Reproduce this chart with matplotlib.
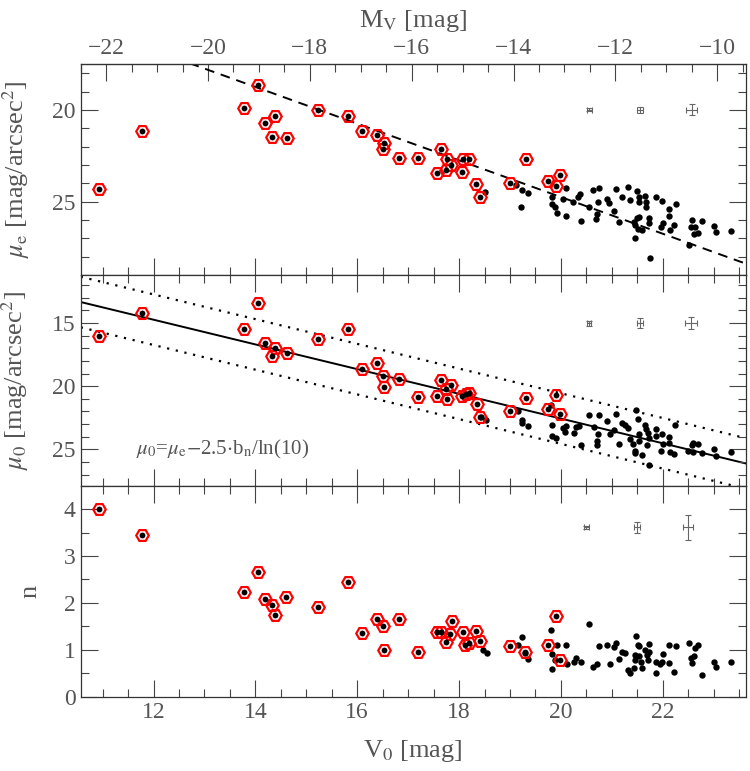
import numpy as np
import matplotlib
matplotlib.use("Agg")
import matplotlib.pyplot as plt
from matplotlib.ticker import MultipleLocator, FixedLocator

plt.rcParams["font.family"] = "Liberation Serif"
plt.rcParams["mathtext.fontset"] = "stix"

GREY = "#555555"
DM = 33.07  # V0 - M_V

# --- top panel: effective surface brightness
bright_v0_e = [10.93, 11.78, 13.78, 14.05, 14.18, 14.39, 14.32, 14.62, 15.24, 15.81,
               16.09, 16.38, 16.53, 16.51, 16.82, 17.20, 17.65, 17.76, 17.85, 17.56,
               17.75, 18.08, 18.20, 18.05, 18.34, 18.42, 19.01, 19.31, 19.75, 19.99, 19.91]
bright_mue = [24.29, 21.15, 19.91, 18.67, 20.71, 20.35, 21.49, 21.56, 20.00, 20.35,
              21.16, 21.36, 21.82, 22.15, 22.64, 22.60, 22.15, 22.69, 23.00, 23.42,
              23.27, 22.69, 22.67, 23.36, 24.06, 24.73, 23.97, 22.69, 23.87, 23.55, 24.15]
faint_v0_e = [18.50, 19.12, 19.24, 19.35, 19.22, 19.83, 19.83, 19.88, 20.10, 20.04,
              19.92, 20.10, 20.24, 20.33, 20.37, 20.55, 20.39, 20.63, 20.75, 20.73,
              20.71, 20.69, 20.91, 20.95, 21.04, 21.09, 21.14, 21.20, 21.31, 21.35,
              21.50, 21.53, 21.53, 21.50, 21.54, 21.43, 21.45, 21.51, 21.60, 21.46,
              21.66, 21.67, 21.67, 21.74, 21.74, 21.87, 21.99, 22.00, 21.97, 22.13,
              22.12, 22.15, 22.23, 22.26, 21.75, 22.51, 22.57, 22.56, 22.64, 22.62,
              22.69, 22.77, 23.00, 23.05, 23.34]
faint_mue = [24.45, 24.09, 24.36, 24.54, 25.31, 24.73, 25.13, 25.27, 24.27, 24.85,
             25.64, 25.76, 25.04, 24.73, 24.60, 25.27, 26.04, 24.36, 24.24, 25.00,
             25.67, 25.96, 24.85, 25.05, 25.49, 24.31, 26.09, 24.76, 24.22, 24.91,
             24.40, 24.73, 25.00, 25.91, 25.82, 26.09, 26.27, 26.51, 26.54, 26.96,
             24.69, 25.00, 25.27, 25.91, 26.15, 24.73, 24.94, 26.18, 26.40, 25.42,
             25.78, 26.54, 26.27, 25.14, 28.09, 27.36, 26.00, 26.36, 26.36, 26.76,
             26.73, 26.04, 26.31, 26.64, 26.58]

# --- middle panel: central surface brightness
bright_v0_0 = [10.93, 11.78, 13.78, 14.05, 14.18, 14.39, 14.32, 14.62, 15.23, 15.81,
               16.09, 16.38, 16.51, 16.53, 16.82, 17.20, 17.65, 17.56, 17.76, 17.85,
               17.74, 18.05, 18.14, 18.20, 18.35, 18.42, 19.01, 19.31, 19.75, 19.98, 19.90]
bright_mu0 = [16.06, 14.19, 15.47, 13.40, 16.58, 16.95, 17.63, 17.37, 16.26, 15.47,
              18.63, 18.19, 19.21, 20.05, 19.40, 20.87, 19.48, 20.74, 21.00, 19.87,
              20.21, 20.74, 20.61, 20.53, 21.37, 22.45, 21.98, 20.92, 21.84, 22.16, 20.71]
faint_v0_0 = [18.44, 18.52, 19.16, 19.24, 19.23, 19.36, 19.80, 19.83, 19.83, 19.91,
              20.04, 20.10, 20.09, 20.25, 20.30, 20.35, 20.39, 20.55, 20.65, 20.75,
              20.73, 20.71, 20.71, 20.91, 20.97, 21.04, 21.09, 21.14, 21.20, 21.25,
              21.31, 21.35, 21.48, 21.51, 21.53, 21.41, 21.54, 21.45, 21.46, 21.59,
              21.66, 21.67, 21.71, 21.73, 21.69, 21.74, 21.86, 21.86, 21.99, 22.00,
              21.97, 22.13, 22.12, 22.15, 22.23, 22.25, 22.49, 22.57, 22.60, 22.69,
              22.59, 22.77, 23.00, 23.05, 23.34]
faint_mu0 = [22.42, 22.71, 21.98, 22.69, 22.90, 23.11, 21.45, 23.08, 23.95, 24.08,
             23.29, 23.11, 23.64, 23.69, 23.21, 23.16, 24.69, 22.24, 23.24, 22.24,
             23.77, 24.35, 24.69, 22.77, 23.82, 23.48, 22.16, 24.58, 22.95, 23.08,
             23.29, 24.16, 21.92, 22.58, 23.77, 24.61, 24.35, 25.14, 25.32, 25.45,
             23.03, 23.37, 23.69, 24.08, 24.66, 26.24, 23.95, 23.37, 23.77, 24.61,
             25.14, 24.03, 24.48, 25.21, 25.35, 23.08, 25.14, 24.69, 24.48, 24.61,
             25.21, 25.27, 25.00, 25.53, 25.21]

# --- bottom panel: Sersic index
bright_v0_n = [10.93, 11.78, 13.78, 14.05, 14.18, 14.32, 14.39, 14.61, 15.23, 15.81,
               16.09, 16.38, 16.51, 16.53, 16.82, 17.20, 17.56, 17.65, 17.75, 17.82,
               17.87, 18.07, 18.11, 18.19, 18.34, 18.42, 19.01, 19.30, 19.75, 19.91, 19.99]
bright_n = [4.01, 3.44, 2.24, 2.66, 2.09, 1.96, 1.75, 2.13, 1.92, 2.44,
            1.36, 1.66, 1.51, 0.99, 1.66, 0.96, 1.38, 1.38, 1.17, 1.34,
            1.62, 1.37, 1.11, 1.14, 1.41, 1.18, 1.07, 0.96, 1.11, 1.73, 0.79]
faint_v0_n = [18.47, 18.54, 19.16, 19.23, 19.36, 19.29, 19.80, 19.83, 19.83, 19.93,
              19.88, 20.10, 20.12, 20.25, 20.30, 20.40, 20.55, 20.64, 20.71, 20.75,
              20.91, 20.97, 21.04, 21.09, 21.14, 21.20, 21.25, 21.31, 21.35, 21.48,
              21.51, 21.53, 21.45, 21.46, 21.43, 21.54, 21.58, 21.59, 21.66, 21.69,
              21.71, 21.74, 21.74, 21.86, 21.87, 21.94, 22.00, 21.99, 22.13, 22.12,
              22.23, 22.26, 22.51, 22.56, 22.58, 22.64, 22.69, 22.62, 22.77, 23.00,
              23.05, 23.34]
faint_n = [1.00, 0.94, 1.11, 1.27, 0.81, 0.93, 1.43, 0.91, 0.59, 1.11,
           0.79, 1.11, 0.69, 0.73, 0.82, 0.74, 1.56, 0.64, 0.69, 1.07,
           1.10, 0.69, 1.05, 1.14, 0.81, 0.96, 0.94, 0.57, 0.50, 1.30,
           1.11, 1.07, 0.88, 0.79, 0.62, 0.87, 0.75, 0.61, 0.99, 0.89,
           0.79, 1.13, 0.96, 0.75, 0.50, 0.69, 0.91, 0.75, 1.11, 0.71,
           0.52, 1.09, 1.14, 0.82, 0.71, 1.04, 1.11, 0.87, 0.46, 0.74,
           0.63, 0.74]

# typical errors in three magnitude bins
err_v0_e = [20.56, 21.56, 22.57]
err_xe_e = [0.05, 0.06, 0.11]
err_ye_e = [0.08, 0.16, 0.30]
err_v0_0 = [20.55, 21.56, 22.56]
err_xe_0 = [0.04, 0.06, 0.12]
err_ye_0 = [0.20, 0.40, 0.50]
err_v0_n = [20.50, 21.49, 22.49]
err_xe_n = [0.045, 0.06, 0.10]
err_ye_n = [0.03, 0.11, 0.26]

# relations
mue_slope, mue_icpt = 1.0, 4.75
mu0_slope, mu0_icpt, mu0_width = 0.978, 3.0, 2.0

XLIM = (10.57, 23.63)
MV_TICKS = [-22, -20, -18, -16, -14, -12, -10]


def style_axis(ax, ymajor, yminor):
    ax.xaxis.set_major_locator(MultipleLocator(2))
    ax.xaxis.set_minor_locator(MultipleLocator(0.5))
    ax.yaxis.set_major_locator(MultipleLocator(ymajor))
    ax.yaxis.set_minor_locator(MultipleLocator(yminor))
    ax.tick_params(which="both", direction="in", right=True, top=True,
                   colors="#444444", labelcolor=GREY, labelsize=17, width=0.8)
    ax.tick_params(which="major", length=12)
    ax.tick_params(which="minor", length=6)
    for sp in ax.spines.values():
        sp.set_color("#333333")
        sp.set_linewidth(0.9)


def plot_points(ax, bx, by, fx, fy, ex, ey, exe, eye):
    ax.plot(fx, fy, "o", color="black", ms=4.6, mew=0, zorder=3)
    ax.plot(bx, by, "H", mfc="none", mec="red", ms=9, mew=1.6, ls="none", zorder=4)
    ax.plot(bx, by, "o", color="black", ms=4.2, mew=0, zorder=5)
    ax.errorbar(ex, ey, xerr=exe, yerr=eye, fmt="none", ecolor="#666666",
                elinewidth=0.8, capsize=2, capthick=0.8, zorder=2)


fig = plt.figure(figsize=(7.5, 7.71), dpi=100)
left, width, h = 0.1076, 0.8867, 0.2737
ax1 = fig.add_axes([left, 0.6433, width, h])
ax2 = fig.add_axes([left, 0.3696, width, h], sharex=ax1)
ax3 = fig.add_axes([left, 0.0964, width, h], sharex=ax1)

xx = np.array(XLIM)

plot_points(ax1, bright_v0_e, bright_mue, faint_v0_e, faint_mue,
            err_v0_e, [20, 20, 20], err_xe_e, err_ye_e)
ax1.plot(xx, mue_slope * xx + mue_icpt, color="black", lw=1.4, ls=(0, (5, 3.5)), zorder=1)
ax1.set_ylim(29.0, 17.5)
style_axis(ax1, 5, 1)
ax1.tick_params(which="both", top=False, labelbottom=False)
ax1.set_ylabel(r"$\mu_{\rm e}$ [mag/arcsec$^2$]", fontsize=19, color=GREY, labelpad=15)

plot_points(ax2, bright_v0_0, bright_mu0, faint_v0_0, faint_mu0,
            err_v0_0, [15, 15, 15], err_xe_0, err_ye_0)
fit = mu0_slope * xx + mu0_icpt
ax2.plot(xx, fit, color="black", lw=1.4, zorder=1)
ax2.plot(xx, fit - mu0_width, color="black", lw=1.6, ls=(0, (1, 3)), zorder=1)
ax2.plot(xx, fit + mu0_width, color="black", lw=1.6, ls=(0, (1, 3)), zorder=1)
ax2.set_ylim(27.9, 11.2)
style_axis(ax2, 5, 1)
ax2.tick_params(which="both", labelbottom=False)
ax2.set_ylabel(r"$\mu_0$ [mag/arcsec$^2$]", fontsize=19, color=GREY, labelpad=15)
ax2.text(13.36, 25.0, r"$\mu_0$=$\mu_{\rm e}$$-$2.5$\cdot$b$_{\rm n}$/ln(10)",
         fontsize=15, color=GREY, ha="center", va="center")

plot_points(ax3, bright_v0_n, bright_n, faint_v0_n, faint_n,
            err_v0_n, [3.61, 3.61, 3.61], err_xe_n, err_ye_n)
ax3.set_ylim(0, 4.5)
style_axis(ax3, 1, 0.5)
ax3.set_ylabel("n", fontsize=19, color=GREY, labelpad=16)
ax3.set_xlabel(r"V$_0$ [mag]", fontsize=19, color=GREY, labelpad=11)

ax1.set_xlim(*XLIM)

top = ax1.secondary_xaxis("top", functions=(lambda v: v - DM, lambda m: m + DM))
top.xaxis.set_major_locator(FixedLocator(MV_TICKS))
top.xaxis.set_minor_locator(FixedLocator(np.arange(-22.5, -9.4, 0.5)))
top.tick_params(which="both", direction="in", colors="#444444", labelcolor=GREY,
                labelsize=17, width=0.8)
top.tick_params(which="major", length=12)
top.tick_params(which="minor", length=6)
top.set_xlabel(r"M$_{\rm V}$ [mag]", fontsize=19, color=GREY, labelpad=8)

fig.savefig("out.png", dpi=100)
